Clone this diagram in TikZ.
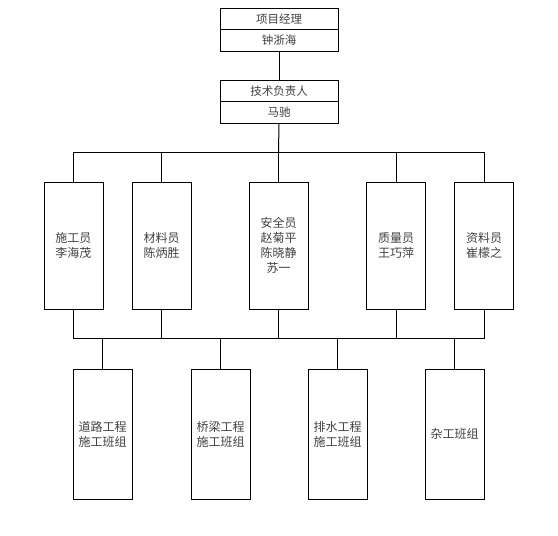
\documentclass[tikz,border=0pt]{standalone}
\usepackage{fontspec}
\newfontfamily\cjk{Noto Sans CJK SC}
\usepackage{tikz}
\usetikzlibrary{positioning}

\begin{document}
\begin{tikzpicture}[
  x=1pt, y=-1pt,
  headbox/.style={draw, line width=1pt, minimum width=118pt, minimum height=21.5pt, inner sep=0pt, align=center, font=\cjk\fontsize{11.5}{14}\selectfont, text=black!75},
  staffbox/.style={draw, line width=1pt, minimum width=59pt, minimum height=127pt, inner sep=0pt, align=center, font=\cjk\fontsize{12}{15}\selectfont, text=black!75},
  teambox/.style={staffbox, minimum height=130pt},
  link/.style={line width=1pt}
]
\useasboundingbox (0,0) rectangle (558,536);
% leaders
\node[headbox] (PM) at (279,18.75) {项目经理};
\node[headbox, below=-1pt of PM] (PMname) {钟浙海};
\node[headbox] (Tech) at (279,90.75) {技术负责人};
\node[headbox, below=-1pt of Tech] (TechName) {马驰};
% staff
\node[staffbox] (S1) at (73.5,245.5) {施工员\\李海茂};
\node[staffbox] (S2) at (161.5,245.5) {材料员\\陈炳胜};
\node[staffbox] (S3) at (278.5,245.5) {安全员\\赵菊平\\陈晓静\\苏一};
\node[staffbox] (S4) at (396,245.5) {质量员\\王巧萍};
\node[staffbox] (S5) at (484,245.5) {资料员\\崔檬之};
% teams
\node[teambox] (T1) at (102.5,434) {道路工程\\施工班组};
\node[teambox] (T2) at (220.5,434) {桥梁工程\\施工班组};
\node[teambox] (T3) at (337.5,434) {排水工程\\施工班组};
\node[teambox] (T4) at (454.5,434) {杂工班组};
% buses
\coordinate (busTop) at (278.5,152);
\coordinate (busLow) at (278.5,338);
\draw[link] (PMname.south) -- (Tech.north);
\draw[link] (TechName.south) -- (busTop);
\foreach \s in {S1,S2,S3,S4,S5} {
  \draw[link] (\s.north) |- (busTop);
  \draw[link] (\s.south) |- (busLow);
}
\foreach \t in {T1,T2,T3,T4}
  \draw[link] (\t.north) |- (busLow);
\end{tikzpicture}
\end{document}
